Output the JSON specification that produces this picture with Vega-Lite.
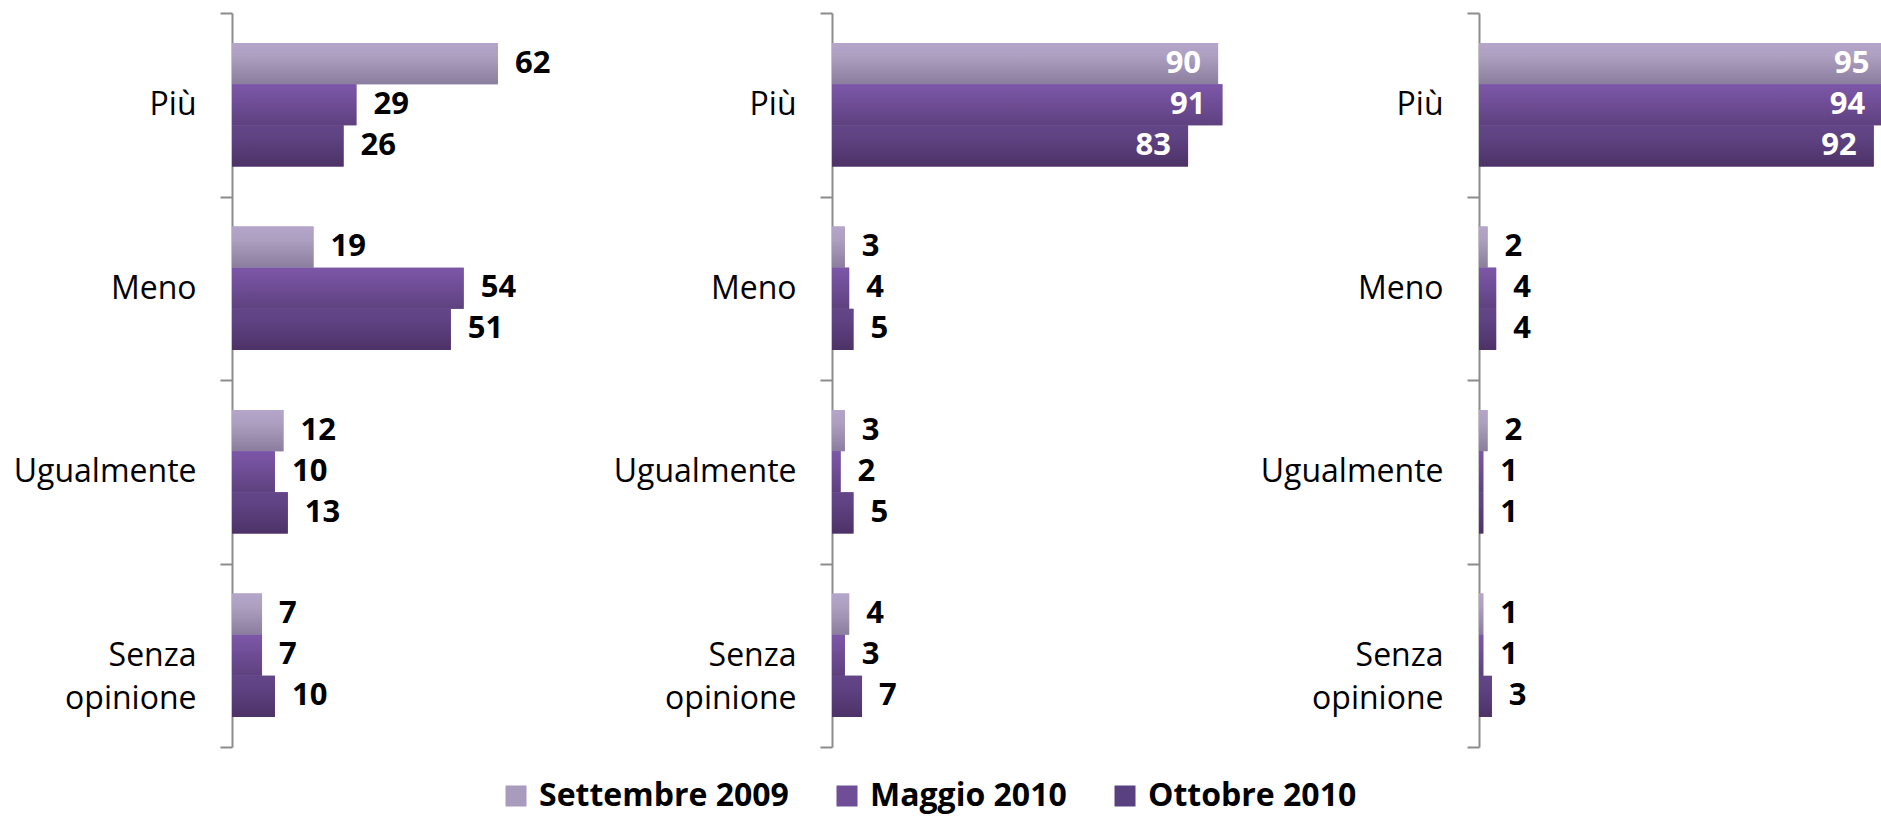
{
  "$schema": "https://vega.github.io/schema/vega-lite/v6.json",
  "autosize": {"type": "pad"},
  "padding": {"left": 13, "top": -3, "right": 0, "bottom": 3},
  "background": "white",
  "bounds": "flush",
  "spacing": 200,
  "data": {"values": [
    {"panel": 1, "cat": "Più", "series": "Settembre 2009", "value": 62},
    {"panel": 1, "cat": "Più", "series": "Maggio 2010", "value": 29},
    {"panel": 1, "cat": "Più", "series": "Ottobre 2010", "value": 26},
    {"panel": 1, "cat": "Meno", "series": "Settembre 2009", "value": 19},
    {"panel": 1, "cat": "Meno", "series": "Maggio 2010", "value": 54},
    {"panel": 1, "cat": "Meno", "series": "Ottobre 2010", "value": 51},
    {"panel": 1, "cat": "Ugualmente", "series": "Settembre 2009", "value": 12},
    {"panel": 1, "cat": "Ugualmente", "series": "Maggio 2010", "value": 10},
    {"panel": 1, "cat": "Ugualmente", "series": "Ottobre 2010", "value": 13},
    {"panel": 1, "cat": "Senza opinione", "series": "Settembre 2009", "value": 7},
    {"panel": 1, "cat": "Senza opinione", "series": "Maggio 2010", "value": 7},
    {"panel": 1, "cat": "Senza opinione", "series": "Ottobre 2010", "value": 10},
    {"panel": 2, "cat": "Più", "series": "Settembre 2009", "value": 90},
    {"panel": 2, "cat": "Più", "series": "Maggio 2010", "value": 91},
    {"panel": 2, "cat": "Più", "series": "Ottobre 2010", "value": 83},
    {"panel": 2, "cat": "Meno", "series": "Settembre 2009", "value": 3},
    {"panel": 2, "cat": "Meno", "series": "Maggio 2010", "value": 4},
    {"panel": 2, "cat": "Meno", "series": "Ottobre 2010", "value": 5},
    {"panel": 2, "cat": "Ugualmente", "series": "Settembre 2009", "value": 3},
    {"panel": 2, "cat": "Ugualmente", "series": "Maggio 2010", "value": 2},
    {"panel": 2, "cat": "Ugualmente", "series": "Ottobre 2010", "value": 5},
    {"panel": 2, "cat": "Senza opinione", "series": "Settembre 2009", "value": 4},
    {"panel": 2, "cat": "Senza opinione", "series": "Maggio 2010", "value": 3},
    {"panel": 2, "cat": "Senza opinione", "series": "Ottobre 2010", "value": 7},
    {"panel": 3, "cat": "Più", "series": "Settembre 2009", "value": 95},
    {"panel": 3, "cat": "Più", "series": "Maggio 2010", "value": 94},
    {"panel": 3, "cat": "Più", "series": "Ottobre 2010", "value": 92},
    {"panel": 3, "cat": "Meno", "series": "Settembre 2009", "value": 2},
    {"panel": 3, "cat": "Meno", "series": "Maggio 2010", "value": 4},
    {"panel": 3, "cat": "Meno", "series": "Ottobre 2010", "value": 4},
    {"panel": 3, "cat": "Ugualmente", "series": "Settembre 2009", "value": 2},
    {"panel": 3, "cat": "Ugualmente", "series": "Maggio 2010", "value": 1},
    {"panel": 3, "cat": "Ugualmente", "series": "Ottobre 2010", "value": 1},
    {"panel": 3, "cat": "Senza opinione", "series": "Settembre 2009", "value": 1},
    {"panel": 3, "cat": "Senza opinione", "series": "Maggio 2010", "value": 1},
    {"panel": 3, "cat": "Senza opinione", "series": "Ottobre 2010", "value": 3}
  ]},
  "hconcat": [
    {
      "width": 400, "height": 734,
      "transform": [{"filter": "datum.panel === 1"}],
      "encoding": {
        "y": {"field": "cat", "type": "nominal", "sort": ["Più", "Meno", "Ugualmente", "Senza opinione"], "scale": {"paddingInner": 0, "paddingOuter": 0}, "title": null,
              "axis": {"encoding": {"labels": {"update": {"align": {"signal": "datum.value === 'Senza opinione' ? 'center' : 'right'"}, "dx": {"signal": "datum.value === 'Senza opinione' ? -64 : 0"}}}}}},
        "yOffset": {"field": "series", "type": "nominal", "sort": ["Settembre 2009", "Maggio 2010", "Ottobre 2010"], "scale": {"paddingInner": 0, "paddingOuter": 0.73}},
        "x": {"field": "value", "type": "quantitative", "scale": {"domain": [0, 93.24], "nice": false, "zero": true}, "axis": null}
      },
      "layer": [
        {"mark": {"type": "bar", "clip": true},
         "encoding": {"color": {"field": "series", "type": "nominal", "sort": ["Settembre 2009", "Maggio 2010", "Ottobre 2010"], "scale": {"range": ["#A99BBD", "#6F4D97", "#594080"]}}}},
        {"mark": {"type": "bar", "clip": true},
         "encoding": {"fill": {
           "condition": [
             {"test": "datum.series === 'Settembre 2009'", "value": {"gradient": "linear", "x1": 0, "y1": 0, "x2": 0, "y2": 1, "stops": [{"offset": 0, "color": "#B5A5CA"}, {"offset": 0.3, "color": "#ADA0C1"}, {"offset": 1, "color": "#8B7D9D"}]}},
             {"test": "datum.series === 'Maggio 2010'", "value": {"gradient": "linear", "x1": 0, "y1": 0, "x2": 0, "y2": 1, "stops": [{"offset": 0, "color": "#7C57A8"}, {"offset": 0.3, "color": "#74519D"}, {"offset": 1, "color": "#5E417F"}]}}
           ],
           "value": {"gradient": "linear", "x1": 0, "y1": 0, "x2": 0, "y2": 1, "stops": [{"offset": 0, "color": "#634688"}, {"offset": 0.3, "color": "#5E4282"}, {"offset": 1, "color": "#4D3267"}]}}}},
        {"transform": [{"filter": "datum.value <= 80"}],
         "mark": {"type": "text", "align": "left", "baseline": "middle", "dx": 17, "font": "Open Sans", "fontWeight": "bold", "fontSize": 31, "fill": "black"},
         "encoding": {"text": {"field": "value", "type": "quantitative"}}},
        {"transform": [{"filter": "datum.value > 80"}],
         "mark": {"type": "text", "align": "right", "baseline": "middle", "dx": -17, "font": "Open Sans", "fontWeight": "bold", "fontSize": 31, "fill": "white"},
         "encoding": {"text": {"field": "value", "type": "quantitative"}}}
      ]
    },
    {
      "width": 447, "height": 734,
      "transform": [{"filter": "datum.panel === 2"}],
      "encoding": {
        "y": {"field": "cat", "type": "nominal", "sort": ["Più", "Meno", "Ugualmente", "Senza opinione"], "scale": {"paddingInner": 0, "paddingOuter": 0}, "title": null,
              "axis": {"encoding": {"labels": {"update": {"align": {"signal": "datum.value === 'Senza opinione' ? 'center' : 'right'"}, "dx": {"signal": "datum.value === 'Senza opinione' ? -64 : 0"}}}}}},
        "yOffset": {"field": "series", "type": "nominal", "sort": ["Settembre 2009", "Maggio 2010", "Ottobre 2010"], "scale": {"paddingInner": 0, "paddingOuter": 0.73}},
        "x": {"field": "value", "type": "quantitative", "scale": {"domain": [0, 104.2], "nice": false, "zero": true}, "axis": null}
      },
      "layer": [
        {"mark": {"type": "bar", "clip": true},
         "encoding": {"color": {"field": "series", "type": "nominal", "sort": ["Settembre 2009", "Maggio 2010", "Ottobre 2010"]}}},
        {"mark": {"type": "bar", "clip": true},
         "encoding": {"fill": {
           "condition": [
             {"test": "datum.series === 'Settembre 2009'", "value": {"gradient": "linear", "x1": 0, "y1": 0, "x2": 0, "y2": 1, "stops": [{"offset": 0, "color": "#B5A5CA"}, {"offset": 0.3, "color": "#ADA0C1"}, {"offset": 1, "color": "#8B7D9D"}]}},
             {"test": "datum.series === 'Maggio 2010'", "value": {"gradient": "linear", "x1": 0, "y1": 0, "x2": 0, "y2": 1, "stops": [{"offset": 0, "color": "#7C57A8"}, {"offset": 0.3, "color": "#74519D"}, {"offset": 1, "color": "#5E417F"}]}}
           ],
           "value": {"gradient": "linear", "x1": 0, "y1": 0, "x2": 0, "y2": 1, "stops": [{"offset": 0, "color": "#634688"}, {"offset": 0.3, "color": "#5E4282"}, {"offset": 1, "color": "#4D3267"}]}}}},
        {"transform": [{"filter": "datum.value <= 80"}],
         "mark": {"type": "text", "align": "left", "baseline": "middle", "dx": 17, "font": "Open Sans", "fontWeight": "bold", "fontSize": 31, "fill": "black"},
         "encoding": {"text": {"field": "value", "type": "quantitative"}}},
        {"transform": [{"filter": "datum.value > 80"}],
         "mark": {"type": "text", "align": "right", "baseline": "middle", "dx": -17, "font": "Open Sans", "fontWeight": "bold", "fontSize": 31, "fill": "white"},
         "encoding": {"text": {"field": "value", "type": "quantitative"}}}
      ]
    },
    {
      "width": 402, "height": 734,
      "transform": [{"filter": "datum.panel === 3"}],
      "encoding": {
        "y": {"field": "cat", "type": "nominal", "sort": ["Più", "Meno", "Ugualmente", "Senza opinione"], "scale": {"paddingInner": 0, "paddingOuter": 0}, "title": null,
              "axis": {"encoding": {"labels": {"update": {"align": {"signal": "datum.value === 'Senza opinione' ? 'center' : 'right'"}, "dx": {"signal": "datum.value === 'Senza opinione' ? -64 : 0"}}}}}},
        "yOffset": {"field": "series", "type": "nominal", "sort": ["Settembre 2009", "Maggio 2010", "Ottobre 2010"], "scale": {"paddingInner": 0, "paddingOuter": 0.73}},
        "x": {"field": "value", "type": "quantitative", "scale": {"domain": [0, 93.7], "nice": false, "zero": true}, "axis": null}
      },
      "layer": [
        {"mark": {"type": "bar", "clip": true},
         "encoding": {"color": {"field": "series", "type": "nominal", "sort": ["Settembre 2009", "Maggio 2010", "Ottobre 2010"]}}},
        {"mark": {"type": "bar", "clip": true},
         "encoding": {"fill": {
           "condition": [
             {"test": "datum.series === 'Settembre 2009'", "value": {"gradient": "linear", "x1": 0, "y1": 0, "x2": 0, "y2": 1, "stops": [{"offset": 0, "color": "#B5A5CA"}, {"offset": 0.3, "color": "#ADA0C1"}, {"offset": 1, "color": "#8B7D9D"}]}},
             {"test": "datum.series === 'Maggio 2010'", "value": {"gradient": "linear", "x1": 0, "y1": 0, "x2": 0, "y2": 1, "stops": [{"offset": 0, "color": "#7C57A8"}, {"offset": 0.3, "color": "#74519D"}, {"offset": 1, "color": "#5E417F"}]}}
           ],
           "value": {"gradient": "linear", "x1": 0, "y1": 0, "x2": 0, "y2": 1, "stops": [{"offset": 0, "color": "#634688"}, {"offset": 0.3, "color": "#5E4282"}, {"offset": 1, "color": "#4D3267"}]}}}},
        {"transform": [{"filter": "datum.value <= 80"}],
         "mark": {"type": "text", "align": "left", "baseline": "middle", "dx": 17, "font": "Open Sans", "fontWeight": "bold", "fontSize": 31, "fill": "black"},
         "encoding": {"text": {"field": "value", "type": "quantitative"}}},
        {"transform": [{"filter": "datum.value > 80"}],
         "mark": {"type": "text", "align": "right", "baseline": "middle", "dx": -17, "font": "Open Sans", "fontWeight": "bold", "fontSize": 31, "fill": "white"},
         "encoding": {"text": {"field": "value", "type": "quantitative"}}}
      ]
    }
  ],
  "resolve": {"scale": {"color": "shared"}},
  "config": {
    "view": {"stroke": null},
    "bar": {"stroke": null},
    "axisY": {
      "domainColor": "#8C8C8C", "domainWidth": 2,
      "tickColor": "#8C8C8C", "tickWidth": 2, "tickSize": 12, "tickBand": "extent",
      "labelPadding": 24, "labelFont": "Open Sans", "labelFontSize": 32, "labelColor": "black",
      "labelLimit": 400, "labelLineHeight": 43,
      "labelExpr": "split(datum.label, ' ')"
    },
    "legend": {
      "orient": "none", "legendX": 268, "legendY": 767, "direction": "horizontal",
      "title": null, "padding": 0, "symbolType": "square", "symbolSize": 441, "symbolStrokeWidth": 0,
      "labelFont": "Open Sans", "labelFontWeight": "bold", "labelFontSize": 32, "labelColor": "black",
      "labelOffset": 7, "columnPadding": 42, "labelLimit": 400
    }
  }
}
